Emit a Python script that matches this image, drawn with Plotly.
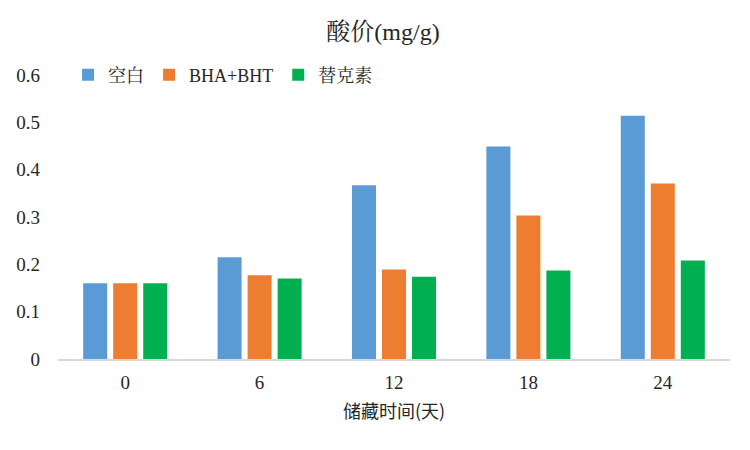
import plotly.graph_objects as go

categories = ["0", "6", "12", "18", "24"]
series_names = ["空白", "BHA+BHT", "替克素"]
blank = [0.160, 0.215, 0.367, 0.449, 0.514]
bha_bht = [0.160, 0.177, 0.189, 0.303, 0.371]
tikesu = [0.160, 0.170, 0.174, 0.187, 0.208]
colors = ["#5B9BD5", "#ED7D31", "#00B050"]
y_ticks = [0, 0.1, 0.2, 0.3, 0.4, 0.5, 0.6]
y_tick_text = ["0", "0.1", "0.2", "0.3", "0.4", "0.5", "0.6"]

serif = "Liberation Serif, Noto Serif CJK SC, Noto Sans CJK SC, serif"

fig = go.Figure()
for name, vals, c in zip(series_names, [blank, bha_bht, tikesu], colors):
    fig.add_trace(go.Bar(x=categories, y=vals, name=name, marker=dict(color=c, line=dict(width=0))))

fig.update_layout(
    width=750, height=450,
    paper_bgcolor="white", plot_bgcolor="white",
    margin=dict(l=50, r=28, t=67, b=99),
    barmode="group", bargap=0.33, bargroupgap=0.2,
    title=dict(text="酸价(mg/g)", x=0.5, xanchor="center", y=0.947, yanchor="middle",
               font=dict(family=serif, size=24, color="#262626")),
    font=dict(family=serif, size=18, color="#262626"),
    legend=dict(orientation="h", x=0.015, xanchor="left", y=1.0, yanchor="middle",
                font=dict(family=serif, size=18, color="#262626"),
                itemwidth=30, bgcolor="rgba(0,0,0,0)", traceorder="normal"),
    xaxis=dict(showgrid=False, showline=True, linecolor="#d9d9d9", linewidth=2,
               ticks="", ticklabelstandoff=5, tickfont=dict(family=serif, size=19, color="#262626"),
               title=dict(text="储藏时间(天)", font=dict(family="Noto Sans CJK SC, sans-serif", size=18, color="#262626"), standoff=14)),
    yaxis=dict(range=[0, 0.6], tickvals=y_ticks, ticktext=y_tick_text, showgrid=False,
               zeroline=False, showline=False, ticks="", ticklabelstandoff=17, automargin=False,
               tickfont=dict(family=serif, size=19, color="#262626")),
)

fig.write_html("out.html")
